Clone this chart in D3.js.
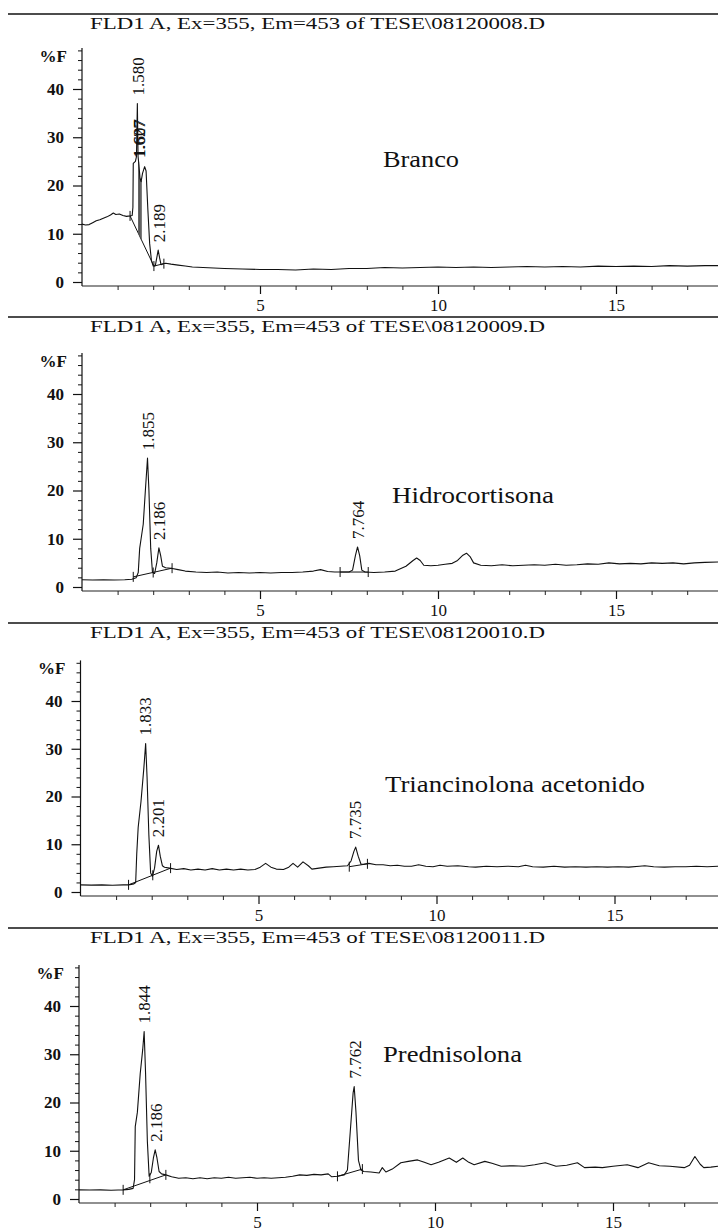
<!DOCTYPE html>
<html><head><meta charset="utf-8">
<script src="https://cdn.jsdelivr.net/npm/d3@7"></script>
<style>body{margin:0;background:#fff}svg{display:block}</style>
</head><body>
<script>
// ---------- DATA ----------
const titles = [
  "FLD1 A, Ex=355, Em=453 of TESE\\08120008.D",
  "FLD1 A, Ex=355, Em=453 of TESE\\08120009.D",
  "FLD1 A, Ex=355, Em=453 of TESE\\08120010.D",
  "FLD1 A, Ex=355, Em=453 of TESE\\08120011.D"
];
const names = ["Branco", "Hidrocortisona", "Triancinolona acetonido", "Prednisolona"];
const yTicks = [0, 10, 20, 30, 40];
const xTickLabels = [5, 10, 15];
const yLabel = "%F";

// chromatogram traces [time (min), %F]
const trace1 = [[0,12.0],[0.1,11.8],[0.2,11.9],[0.3,12.3],[0.4,12.7],[0.5,12.9],[0.6,13.2],[0.7,13.5],[0.8,13.9],[0.88,14.3],[0.95,14.0],[1.05,14.1],[1.15,13.8],[1.25,13.6],[1.35,13.7],[1.41,13.8],[1.43,15.5],[1.44,24.6],[1.5,25.0],[1.53,26],[1.555,37.0],[1.575,26],[1.6,24.2],[1.63,21.5],[1.66,20.8],[1.7,22.5],[1.76,23.9],[1.8,23.0],[1.85,15],[1.9,8],[1.95,4.5],[2.0,3.3],[2.06,3.4],[2.1,5.0],[2.14,6.6],[2.18,5.0],[2.22,3.6],[2.28,3.8],[2.35,3.9],[2.5,3.7],[2.7,3.5],[2.9,3.3],[3.1,3.1],[3.4,3.0],[3.7,2.9],[4.0,2.8],[4.5,2.7],[5.0,2.6],[5.5,2.6],[6.0,2.5],[6.5,2.7],[7.0,2.6],[7.5,2.8],[8.0,2.8],[8.5,3.0],[9.0,2.9],[9.5,3.0],[10.0,3.1],[10.5,3.0],[11.0,3.1],[11.5,3.0],[12.0,3.1],[12.5,3.2],[13.0,3.1],[13.5,3.2],[14.0,3.1],[14.5,3.3],[15.0,3.2],[15.5,3.3],[16.0,3.2],[16.5,3.4],[17.0,3.3],[17.5,3.4],[17.95,3.4]];
const trace2 = [[0,1.5],[0.3,1.45],[0.6,1.5],[0.9,1.45],[1.2,1.5],[1.4,1.6],[1.52,1.9],[1.58,3],[1.62,8],[1.66,10.0],[1.72,13],[1.78,20],[1.84,26.7],[1.88,20],[1.93,8],[1.98,3.0],[2.04,2.8],[2.1,5],[2.16,8.1],[2.21,6.5],[2.26,4.3],[2.35,4.0],[2.5,3.9],[2.7,3.6],[2.9,3.3],[3.2,3.1],[3.5,3.0],[3.8,3.1],[4.1,2.9],[4.4,3.0],[4.7,2.9],[5.0,3.0],[5.3,2.9],[5.6,3.0],[5.9,3.0],[6.2,3.1],[6.5,3.3],[6.7,3.6],[6.9,3.2],[7.1,3.1],[7.3,3.1],[7.5,3.1],[7.6,3.5],[7.68,6.5],[7.74,8.3],[7.8,6.5],[7.86,3.5],[7.95,3.1],[8.2,3.0],[8.5,3.1],[8.8,3.3],[9.1,4.3],[9.3,5.5],[9.4,6.0],[9.5,5.5],[9.6,4.5],[9.8,4.4],[10.0,4.5],[10.2,4.7],[10.4,4.9],[10.55,5.5],[10.7,6.6],[10.8,7.0],[10.9,6.3],[11.0,5.0],[11.2,4.5],[11.5,4.4],[11.8,4.6],[12.1,4.4],[12.4,4.5],[12.7,4.6],[13.0,4.5],[13.3,4.7],[13.6,4.5],[13.9,4.6],[14.2,4.8],[14.5,4.7],[14.8,5.0],[15.1,4.8],[15.4,4.9],[15.7,4.8],[16.0,5.0],[16.3,4.9],[16.6,5.0],[16.9,4.8],[17.2,5.0],[17.5,5.1],[17.95,5.2]];
const trace3 = [[0,1.5],[0.3,1.45],[0.6,1.5],[0.9,1.4],[1.2,1.5],[1.35,1.5],[1.5,1.7],[1.55,2],[1.58,8],[1.62,13.5],[1.7,19],[1.78,26],[1.83,31.1],[1.87,24],[1.92,12],[1.97,4],[2.02,3.3],[2.08,5],[2.14,8.5],[2.19,9.8],[2.24,7.5],[2.3,5.5],[2.36,5.2],[2.5,5.0],[2.7,4.7],[2.9,4.9],[3.1,4.6],[3.3,4.8],[3.5,4.6],[3.7,4.9],[3.9,4.6],[4.1,4.8],[4.3,4.6],[4.5,4.8],[4.7,4.6],[4.9,4.7],[5.05,5.2],[5.2,6.0],[5.35,5.2],[5.5,4.8],[5.7,4.7],[5.85,5.2],[5.97,6.0],[6.1,5.2],[6.25,6.3],[6.4,5.5],[6.5,4.8],[6.7,5.0],[6.9,5.2],[7.1,5.3],[7.3,5.4],[7.5,5.5],[7.6,6.5],[7.68,8.5],[7.73,9.4],[7.8,7.5],[7.88,5.8],[7.95,5.8],[8.1,6.0],[8.3,5.7],[8.5,5.7],[8.7,5.5],[8.9,5.6],[9.1,5.4],[9.3,5.4],[9.5,5.7],[9.7,5.4],[9.9,5.3],[10.1,5.6],[10.3,5.4],[10.6,5.5],[10.9,5.3],[11.1,5.2],[11.4,5.4],[11.7,5.3],[12.0,5.4],[12.3,5.3],[12.5,5.6],[12.7,5.3],[13.0,5.2],[13.3,5.4],[13.6,5.2],[13.9,5.3],[14.2,5.2],[14.5,5.3],[14.8,5.2],[15.1,5.3],[15.4,5.2],[15.7,5.4],[15.85,5.5],[16.1,5.3],[16.4,5.2],[16.7,5.3],[17.0,5.3],[17.3,5.4],[17.6,5.3],[17.95,5.4]];
const trace4 = [[0,1.9],[0.3,1.85],[0.6,1.9],[0.9,1.8],[1.1,1.85],[1.24,1.9],[1.4,2.0],[1.52,2.2],[1.56,4],[1.58,15],[1.64,18],[1.72,26],[1.79,31],[1.83,34.7],[1.87,26],[1.92,12],[1.97,4.7],[2.03,5.5],[2.09,8.5],[2.14,10.2],[2.19,8.5],[2.25,5.7],[2.32,5.2],[2.44,5.0],[2.6,4.6],[2.8,4.3],[3.0,4.4],[3.2,4.2],[3.4,4.4],[3.6,4.2],[3.8,4.4],[4.0,4.3],[4.2,4.5],[4.4,4.3],[4.6,4.4],[4.8,4.5],[5.0,4.3],[5.2,4.4],[5.4,4.3],[5.6,4.4],[5.8,4.5],[6.0,4.7],[6.2,5.0],[6.4,4.9],[6.6,5.1],[6.8,5.0],[7.0,5.2],[7.1,4.6],[7.26,4.7],[7.45,5.0],[7.54,6.0],[7.62,14],[7.7,22],[7.73,23.3],[7.78,18],[7.85,8],[7.92,6.0],[8.0,5.7],[8.2,5.6],[8.43,5.4],[8.52,6.5],[8.62,5.6],[8.8,6.2],[9.04,7.5],[9.25,7.8],[9.51,8.1],[9.7,7.6],[9.89,7.1],[10.1,7.6],[10.4,8.5],[10.6,7.6],[10.78,8.5],[10.95,7.6],[11.1,7.1],[11.4,7.8],[11.6,7.4],[11.86,6.8],[12.2,6.9],[12.5,6.8],[12.8,7.1],[13.1,7.5],[13.4,6.8],[13.7,7.0],[14.0,7.5],[14.2,6.5],[14.5,6.6],[14.7,6.5],[15.0,6.8],[15.4,7.1],[15.7,6.5],[16.0,7.5],[16.3,6.9],[16.6,6.8],[17.0,6.5],[17.15,7.0],[17.3,8.8],[17.45,7.2],[17.55,6.5],[17.75,6.6],[17.95,6.8]];

// peak retention times and apex heights
const peakRT1 = [1.580, 1.607, 1.627, 2.189];
const peakTop1 = [37.0, 24.2, 24.0, 6.6];
const peakRT2 = [1.855, 2.186, 7.764];
const peakTop2 = [26.7, 8.1, 8.3];
const peakRT3 = [1.833, 2.201, 7.735];
const peakTop3 = [31.1, 9.8, 9.4];
const peakRT4 = [1.844, 2.186, 7.762];
const peakTop4 = [34.7, 10.2, 23.3];

// integration baselines [[t,v],[t,v]]
const baseSeg1 = [[[1.35,13.7],[2.02,3.3]], [[2.02,3.3],[2.30,3.8]]];
const baseSeg2 = [[[1.44,2.1],[2.53,3.9]], [[7.25,3.1],[8.04,3.1]]];
const baseSeg3 = [[[1.35,1.5],[2.53,5.0]], [[7.55,5.3],[8.06,5.9]]];
const baseSeg4 = [[[1.24,1.9],[2.44,5.0]], [[7.26,4.7],[7.96,6.2]]];
// peak start / end markers
const marks1 = [[1.35,13.7],[2.02,3.3],[2.30,3.8]];
const marks2 = [[1.44,2.1],[2.0,3.0],[2.53,3.9],[7.25,3.1],[8.04,3.1]];
const marks3 = [[1.35,1.5],[2.03,3.5],[2.53,5.0],[7.55,5.3],[8.06,5.9]];
const marks4 = [[1.24,1.9],[1.99,4.3],[2.44,5.0],[7.26,4.7],[7.96,6.2]];
// drop lines between unresolved peaks
const drops1 = [1.59, 1.615, 1.64, 1.665];
const drops2 = [], drops3 = [], drops4 = [];

// ---------- LAYOUT ----------
const W = 718, H = 1232;
const headerY = [14, 317, 623, 928];
const zeroY = [282, 587, 892, 1199];
const y40Y = [89, 394, 701, 1006];
const x0X = [82, 82, 80.5, 79];
const pxPerMin = 35.6;
const namePos = [[383,167],[392,503],[385,792],[383,1062]];
const nameW = [76, 162, 260, 139];

const traces = [trace1, trace2, trace3, trace4];
const peakRTs = [peakRT1, peakRT2, peakRT3, peakRT4];
const peakTops = [peakTop1, peakTop2, peakTop3, peakTop4];
const baseSegs = [baseSeg1, baseSeg2, baseSeg3, baseSeg4];
const marks = [marks1, marks2, marks3, marks4];
const drops = [drops1, drops2, drops3, drops4];

const serif = "'Liberation Serif','Times New Roman','DejaVu Serif',serif";
const svg = d3.select("body").append("svg").attr("width", W).attr("height", H)
  .style("font-family", serif);

function interp(arr, t) {
  for (let i = 1; i < arr.length; i++) {
    if (arr[i][0] >= t) {
      const a = arr[i-1], b = arr[i];
      return a[1] + (b[1]-a[1]) * (t - a[0]) / (b[0] - a[0]);
    }
  }
  return arr[arr.length-1][1];
}

for (let p = 0; p < 4; p++) {
  const g = svg.append("g");
  const x0 = x0X[p];
  const x = d3.scaleLinear().domain([0, 5]).range([x0, x0 + 5 * pxPerMin]);
  const y = d3.scaleLinear().domain([0, 40]).range([zeroY[p], y40Y[p]]);
  const axisY = zeroY[p] + 4;

  // header line + title
  g.append("line").attr("x1", 8).attr("x2", W).attr("y1", headerY[p]).attr("y2", headerY[p])
    .attr("stroke", "#111").attr("stroke-width", 1.3);
  g.append("text").attr("x", 90).attr("y", headerY[p] + 15)
    .attr("font-size", 17).attr("textLength", 455).attr("lengthAdjust", "spacingAndGlyphs")
    .attr("fill", "#111").text(titles[p]);

  // y axis
  g.append("line").attr("x1", x0).attr("x2", x0).attr("y1", y(48.5)).attr("y2", axisY)
    .attr("stroke", "#111").attr("stroke-width", 1.2);
  const minor = d3.range(0, 49, 2).filter(v => v % 10 !== 0);
  g.append("g").attr("transform", `translate(${x0},0)`)
    .call(d3.axisLeft(y).tickValues(minor).tickSize(4).tickFormat(""))
    .call(s => s.select(".domain").remove())
    .call(s => s.selectAll("line").attr("stroke", "#111"));
  g.append("g").attr("transform", `translate(${x0},0)`)
    .call(d3.axisLeft(y).tickValues(yTicks).tickSize(9).tickPadding(9).tickFormat(d3.format("d")))
    .call(s => s.select(".domain").remove())
    .call(s => s.selectAll("line").attr("stroke", "#111").attr("stroke-width", 1.2))
    .call(s => s.selectAll("text").attr("font-family", serif).attr("font-size", 17)
      .attr("font-weight", "bold").attr("fill", "#111"));
  g.append("text").attr("x", x0 - 15).attr("y", y(46.8)).attr("dominant-baseline", "central")
    .attr("text-anchor", "end").attr("font-size", 17).attr("font-weight", "bold").attr("fill", "#111")
    .text(yLabel);

  // x axis
  g.append("line").attr("x1", x0).attr("x2", W).attr("y1", axisY).attr("y2", axisY)
    .attr("stroke", "#222").attr("stroke-width", 1.2);
  const tEnd = x.invert(W);
  g.append("g").attr("transform", `translate(0,${axisY})`)
    .call(d3.axisBottom(x).tickValues(d3.range(1, Math.floor(tEnd) + 1).filter(v => v % 5 !== 0)).tickSize(4).tickFormat(""))
    .call(s => s.select(".domain").remove())
    .call(s => s.selectAll("line").attr("stroke", "#222"));
  g.append("g").attr("transform", `translate(0,${axisY})`)
    .call(d3.axisBottom(x).tickValues(xTickLabels).tickSize(8).tickPadding(5).tickFormat(d3.format("d")))
    .call(s => s.select(".domain").remove())
    .call(s => s.selectAll("line").attr("stroke", "#111").attr("stroke-width", 1.2))
    .call(s => s.selectAll("text").attr("font-family", serif).attr("font-size", 17).attr("fill", "#111"));

  // baselines
  const line = d3.line().x(d => x(d[0])).y(d => y(d[1]));
  baseSegs[p].forEach(seg => {
    g.append("path").attr("d", line(seg)).attr("fill", "none").attr("stroke", "#111").attr("stroke-width", 1);
  });
  // drop lines
  drops[p].forEach(t => {
    const bl = baseSegs[p][0];
    const bv = bl[0][1] + (bl[1][1] - bl[0][1]) * (t - bl[0][0]) / (bl[1][0] - bl[0][0]);
    g.append("line").attr("x1", x(t)).attr("x2", x(t)).attr("y1", y(interp(traces[p], t))).attr("y2", y(bv))
      .attr("stroke", "#555").attr("stroke-width", 1);
  });
  // markers
  marks[p].forEach(m => {
    g.append("line").attr("x1", x(m[0])).attr("x2", x(m[0])).attr("y1", y(m[1]) - 5).attr("y2", y(m[1]) + 5)
      .attr("stroke", "#111").attr("stroke-width", 1);
  });

  // trace
  g.append("path").attr("d", line(traces[p])).attr("fill", "none")
    .attr("stroke", "#111").attr("stroke-width", 1.1).attr("stroke-linejoin", "round");

  // peak labels
  peakRTs[p].forEach((rt, i) => {
    const px = x(rt), py = y(peakTops[p][i]) - 8;
    g.append("text").attr("transform", `translate(${px},${py}) rotate(-90)`)
      .attr("text-anchor", "start").attr("dominant-baseline", "central")
      .attr("font-size", 17).attr("fill", "#111").text(rt.toFixed(3));
  });

  // compound name
  g.append("text").attr("x", namePos[p][0]).attr("y", namePos[p][1])
    .attr("font-size", 23).attr("textLength", nameW[p]).attr("lengthAdjust", "spacingAndGlyphs")
    .attr("fill", "#111").text(names[p]);
}
</script>
</body></html>
